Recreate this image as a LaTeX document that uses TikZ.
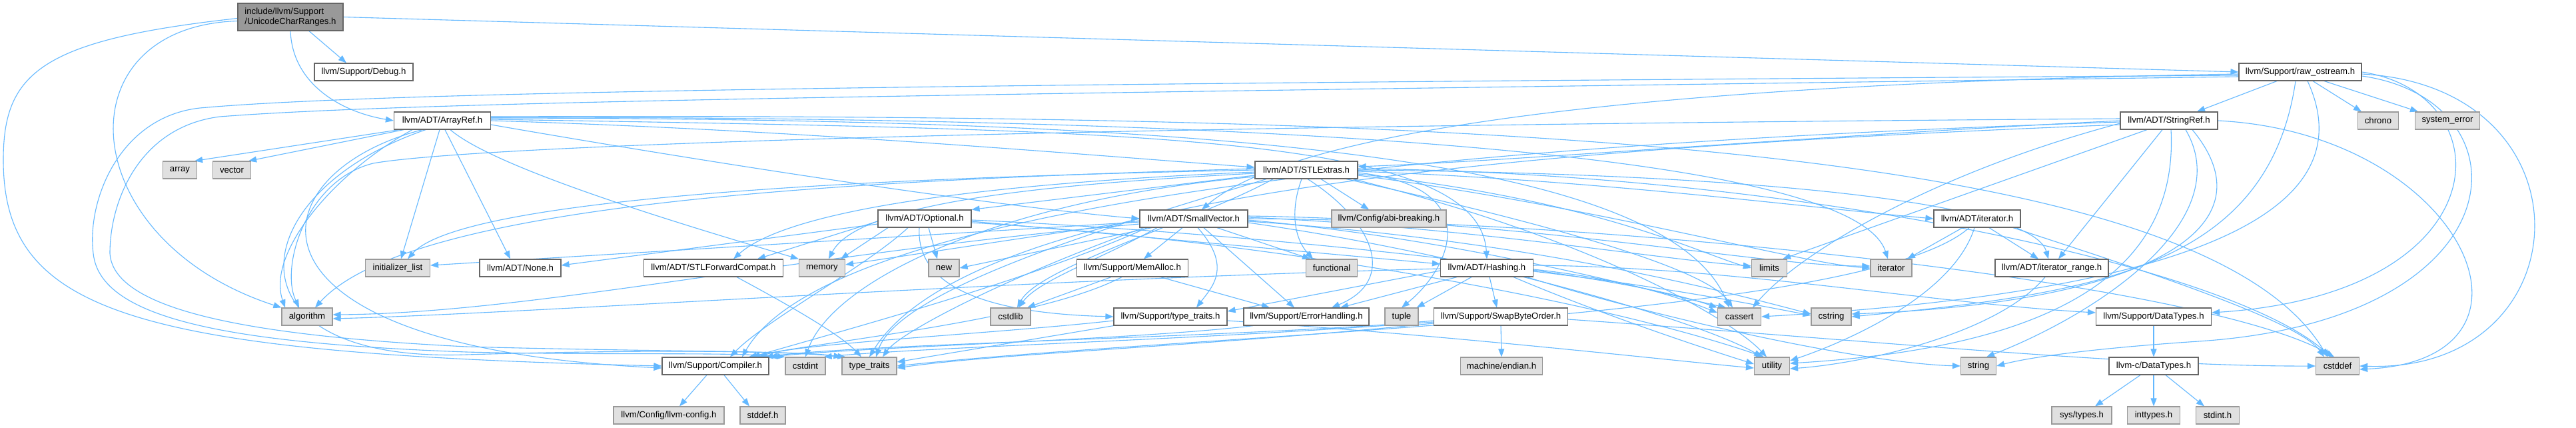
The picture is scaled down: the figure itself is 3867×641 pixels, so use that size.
\documentclass[tikz,border=0pt]{standalone}
\usepackage{fontspec}
\setmainfont{Liberation Sans}
\usetikzlibrary{arrows.meta}
\definecolor{edgeblue}{HTML}{63B8FF}
\definecolor{nodeborder}{HTML}{666666}
\definecolor{extborder}{HTML}{999999}
\definecolor{extfill}{HTML}{E0E0E0}
\definecolor{mainfill}{HTML}{999999}
\pgfdeclarelayer{bglayer}
\pgfdeclarelayer{edgelayer}
\pgfsetlayers{bglayer,edgelayer,main}
\begin{document}
\begin{tikzpicture}[x=1pt,y=1pt,
  filebox/.style={draw=nodeborder, fill=white, line width=1.2pt, minimum height=26pt, inner sep=0pt,
    font=\fontsize{13.2pt}{15pt}\selectfont, text=black},
  extbox/.style={filebox, draw=extborder, fill=extfill},
  edgeline/.style={draw=edgeblue, line width=1.1pt, -{Triangle[length=12pt,width=9pt]}}]
\useasboundingbox (0,0) rectangle (3867,-641);
\begin{pgfonlayer}{bglayer}
\fill[white] (0,0) rectangle (3867,-641);
\end{pgfonlayer}
% nodes
\node[filebox,fill=mainfill,minimum width=158pt,minimum height=41pt,align=left] (main) at (436,-25.5) {include/llvm/Support\\/UnicodeCharRanges.h};
\node[filebox,minimum width=148pt] (debug) at (546,-108) {llvm/Support/Debug.h};
\node[filebox,minimum width=184pt] (raw) at (3453,-108) {llvm/Support/raw\_ostream.h};
\node[filebox,minimum width=145pt] (arrayref) at (664,-181) {llvm/ADT/ArrayRef.h};
\node[filebox,minimum width=146pt] (stringref) at (3256,-181) {llvm/ADT/StringRef.h};
\node[extbox,minimum width=61pt] (chrono) at (3570,-181) {chrono};
\node[extbox,minimum width=97pt] (syserr) at (3674,-181) {system\_error};
\node[extbox,minimum width=51pt] (array) at (270,-255) {array};
\node[extbox,minimum width=57pt] (vector) at (348,-255) {vector};
\node[filebox,minimum width=154pt] (stlextras) at (1961,-255) {llvm/ADT/STLExtras.h};
\node[filebox,minimum width=140pt] (optional) at (1388,-328) {llvm/ADT/Optional.h};
\node[filebox,minimum width=162pt] (smallvector) at (1792,-328) {llvm/ADT/SmallVector.h};
\node[extbox,minimum width=172pt] (abibreak) at (2085,-328) {llvm/Config/abi-breaking.h};
\node[filebox,minimum width=130pt] (iteratorh) at (2968,-328) {llvm/ADT/iterator.h};
\node[extbox,minimum width=97pt] (initlist) at (597,-402) {initializer\_list};
\node[filebox,minimum width=122pt] (none) at (781,-402) {llvm/ADT/None.h};
\node[filebox,minimum width=209pt] (stlfc) at (1071,-402) {llvm/ADT/STLForwardCompat.h};
\node[extbox,minimum width=69pt] (memory) at (1234,-402) {memory};
\node[extbox,minimum width=46pt] (new) at (1417,-402) {new};
\node[filebox,minimum width=167pt] (memalloc) at (1700,-402) {llvm/Support/MemAlloc.h};
\node[extbox,minimum width=77pt] (functional) at (1999,-402) {functional};
\node[filebox,minimum width=139pt] (hashing) at (2232,-402) {llvm/ADT/Hashing.h};
\node[extbox,minimum width=53pt] (limits) at (2656,-402) {limits};
\node[extbox,minimum width=62pt] (iterator) at (2839,-402) {iterator};
\node[filebox,minimum width=170pt] (itrange) at (3080,-402) {llvm/ADT/iterator\_range.h};
\node[extbox,minimum width=76pt] (algorithm) at (461,-475) {algorithm};
\node[extbox,minimum width=60pt] (cstdlib) at (1517,-475) {cstdlib};
\node[filebox,minimum width=170pt] (typetraitsh) at (1757,-475) {llvm/Support/type\_traits.h};
\node[filebox,minimum width=188pt] (errorh) at (1961,-475) {llvm/Support/ErrorHandling.h};
\node[extbox,minimum width=50pt] (tuple) at (2104,-475) {tuple};
\node[filebox,minimum width=201pt] (swap) at (2253,-475) {llvm/Support/SwapByteOrder.h};
\node[extbox,minimum width=65pt] (cassert) at (2611,-475) {cassert};
\node[extbox,minimum width=60pt] (cstring) at (2749,-475) {cstring};
\node[filebox,minimum width=173pt] (datatypes) at (3233,-475) {llvm/Support/DataTypes.h};
\node[filebox,minimum width=160pt] (compiler) at (1074,-549) {llvm/Support/Compiler.h};
\node[extbox,minimum width=60pt] (cstdint) at (1209,-549) {cstdint};
\node[extbox,minimum width=82pt] (typetraits) at (1305,-549) {type\_traits};
\node[extbox,minimum width=123pt] (endian) at (2254,-549) {machine/endian.h};
\node[extbox,minimum width=53pt] (utility) at (2660,-549) {utility};
\node[extbox,minimum width=53pt] (string) at (2970,-549) {string};
\node[filebox,minimum width=134pt] (cdatatypes) at (3233,-549) {llvm-c/DataTypes.h};
\node[extbox,minimum width=65pt] (cstddef) at (3509,-549) {cstddef};
\node[extbox,minimum width=166pt] (llvmconfig) at (1004,-623) {llvm/Config/llvm-config.h};
\node[extbox,minimum width=68pt] (stddefh) at (1145,-623) {stddef.h};
\node[extbox,minimum width=90pt] (systypes) at (3125,-623) {sys/types.h};
\node[extbox,minimum width=79pt] (inttypes) at (3233,-623) {inttypes.h};
\node[extbox,minimum width=65pt] (stdinth) at (3329,-623) {stdint.h};

\begin{pgfonlayer}{edgelayer}
% main
\draw[edgeline] ([xshift=28pt]main.south) -- ([xshift=-26pt]debug.north);
\draw[edgeline] (main.east) -- (raw.west);
\draw[edgeline] (main.south) .. controls (439,-126) and (512,-168) .. (arrayref.west);
\draw[edgeline] ([yshift=-6pt]main.west) .. controls (90,-40) and (110,-360) .. (algorithm.north west);
\draw[edgeline] ([yshift=-2pt]main.west) .. controls (60,-60) and (5,-110) .. (5,-240) .. controls (5,-470) and (200,-530) .. (compiler.west);
% raw_ostream
\draw[edgeline] ([xshift=-35pt]raw.south) -- ([xshift=42pt]stringref.north);
\draw[edgeline] ([xshift=19pt]raw.south) -- ([xshift=-25pt]chrono.north);
\draw[edgeline] ([xshift=36pt]raw.south) -- ([xshift=-44pt]syserr.north);
\draw[edgeline] ([yshift=-3pt]raw.west) .. controls (2500,-125) and (1950,-190) .. ([xshift=12pt]smallvector.north);
\draw[edgeline] ([yshift=-5pt]raw.west) .. controls (1600,-125) and (600,-135) .. (300,-162) .. controls (180,-175) and (130,-300) .. (140,-380) .. controls (150,-480) and (350,-515) .. (700,-528) .. controls (900,-533) and (1100,-528) .. (cstdint.north west);
\draw[edgeline] ([yshift=-7pt]raw.west) .. controls (1600,-140) and (650,-150) .. (330,-175) .. controls (210,-190) and (165,-300) .. (165,-380) .. controls (170,-470) and (400,-505) .. (700,-520) .. controls (1000,-528) and (1200,-526) .. (typetraits.north west);
\draw[edgeline] (raw.east) .. controls (3760,-140) and (3760,-440) .. ([yshift=6pt]datatypes.east);
\draw[edgeline] ([yshift=-3pt]raw.east) .. controls (3900,-130) and (3880,-560) .. (cstddef.east);
\draw[edgeline] ([yshift=-6pt]raw.east) .. controls (3800,-150) and (3790,-480) .. (3300,-512) .. controls (3150,-522) and (3050,-535) .. (string.east);
\draw[edgeline] ([xshift=-7pt]raw.south) .. controls (3405,-400) and (3150,-440) .. (cstring.east);
\draw[edgeline] ([xshift=11pt]raw.south) .. controls (3560,-330) and (3250,-440) .. (cassert.east);
% StringRef
\draw[edgeline] (stringref.west) .. controls (2700,-205) and (2300,-240) .. ([yshift=5pt]stlextras.east);
\draw[edgeline] ([xshift=-10pt]stringref.south) -- ([xshift=10pt]itrange.north);
\draw[edgeline] ([xshift=-33pt]stringref.south) -- ([xshift=20pt]limits.north);
\draw[edgeline] ([xshift=3pt]stringref.south) .. controls (3270,-400) and (3100,-520) .. ([yshift=4pt]utility.east);
\draw[edgeline] ([xshift=25pt]stringref.south) .. controls (3360,-330) and (3150,-470) .. ([xshift=12pt]string.north);
\draw[edgeline] ([xshift=35pt]stringref.south) .. controls (3420,-350) and (3200,-455) .. ([yshift=4pt]cstring.east);
\draw[edgeline] ([yshift=-4pt]stringref.west) .. controls (2900,-260) and (2700,-380) .. ([xshift=20pt]cassert.north);
\draw[edgeline] (stringref.east) .. controls (3700,-200) and (3850,-540) .. ([yshift=-5pt]cstddef.east);
\draw[edgeline] ([yshift=3pt]stringref.west) .. controls (1500,-190) and (700,-220) .. (560,-245) .. controls (460,-270) and (420,-400) .. ([xshift=-12pt]algorithm.north);
\draw[edgeline] ([yshift=-2pt]stringref.west) .. controls (2200,-215) and (1250,-300) .. ([xshift=40pt]compiler.north);
\draw[edgeline] ([yshift=-6pt]stringref.west) .. controls (2200,-225) and (1450,-300) .. (typetraits.north);
% ArrayRef
\draw[edgeline] ([xshift=-65pt]arrayref.south) -- ([xshift=-4pt]array.north east);
\draw[edgeline] ([xshift=-58pt]arrayref.south) -- ([xshift=-4pt]vector.north east);
\draw[edgeline] ([xshift=-4pt]arrayref.south) -- ([xshift=5pt]initlist.north);
\draw[edgeline] ([xshift=4pt]arrayref.south) -- ([xshift=-15pt]none.north);
\draw[edgeline] ([xshift=12pt]arrayref.south) .. controls (740,-250) and (1000,-330) .. (memory.north west);
\draw[edgeline] ([xshift=-45pt]arrayref.south) .. controls (500,-260) and (400,-380) .. ([xshift=-33pt]algorithm.north);
\draw[edgeline] ([xshift=-30pt]arrayref.south) .. controls (380,-260) and (330,-520) .. ([yshift=-3pt]compiler.west);
\draw[edgeline] ([xshift=-25pt]arrayref.south) .. controls (360,-290) and (330,-545) .. (700,-532) .. controls (900,-526) and (1150,-524) .. ([xshift=6pt]typetraits.north west);
\draw[edgeline] (arrayref.east) .. controls (1200,-195) and (1600,-230) .. ([yshift=4pt]stlextras.west);
\draw[edgeline] ([yshift=-6pt]arrayref.east) .. controls (1100,-250) and (1500,-310) .. (smallvector.west);
\draw[edgeline] ([yshift=2pt]arrayref.east) .. controls (1700,-195) and (2220,-200) .. (hashing.north);
\draw[edgeline] ([yshift=4pt]arrayref.east) .. controls (1800,-178) and (2500,-230) .. ([xshift=-15pt]cassert.north);
\draw[edgeline] ([yshift=6pt]arrayref.east) .. controls (2200,-170) and (3300,-210) .. ([xshift=-15pt]cstddef.north);
\draw[edgeline] ([yshift=5pt]arrayref.east) .. controls (1800,-175) and (2780,-220) .. ([xshift=-5pt]iterator.north);
% STLExtras
\draw[edgeline] ([yshift=-8pt]stlextras.west) -- (optional.north east);
\draw[edgeline] ([yshift=-3pt]stlextras.west) .. controls (1600,-270) and (1200,-300) .. ([xshift=30pt]stlfc.north);
\draw[edgeline] ([yshift=-5pt]stlextras.west) .. controls (1600,-275) and (1290,-300) .. ([xshift=10pt]memory.north);
\draw[edgeline] (stlextras.west) .. controls (1400,-265) and (700,-290) .. ([xshift=15pt]initlist.north);
\draw[edgeline] ([yshift=2pt]stlextras.west) .. controls (1300,-270) and (620,-300) .. ([xshift=12pt]algorithm.north);
\draw[edgeline] ([yshift=-10pt]stlextras.west) .. controls (1500,-300) and (1250,-420) .. (cstdint.north);
\draw[edgeline] ([xshift=-60pt]stlextras.south) .. controls (1700,-330) and (1350,-430) .. ([xshift=10pt]typetraits.north);
\draw[edgeline] ([xshift=-50pt]stlextras.south) .. controls (1800,-330) and (1560,-400) .. ([xshift=10pt]cstdlib.north);
\draw[edgeline] ([xshift=22pt]stlextras.south) -- ([xshift=-30pt]abibreak.north);
\draw[edgeline] ([xshift=-7pt]stlextras.south) .. controls (1935,-320) and (1945,-360) .. ([xshift=-28pt]functional.north);
\draw[edgeline] ([xshift=2pt]stlextras.south) .. controls (2060,-330) and (2100,-420) .. ([xshift=38pt]errorh.north);
\draw[edgeline] ([yshift=-4pt]stlextras.east) .. controls (2230,-280) and (2180,-400) .. (tuple.north);
\draw[edgeline] ([yshift=-2pt]stlextras.east) .. controls (2400,-270) and (2700,-310) .. (iteratorh.west);
\draw[edgeline] (stlextras.east) .. controls (2600,-260) and (3050,-300) .. ([xshift=-5pt]itrange.north);
\draw[edgeline] ([yshift=-6pt]stlextras.east) .. controls (2400,-300) and (2550,-380) .. (limits.west);
\draw[edgeline] ([yshift=-8pt]stlextras.east) .. controls (2400,-310) and (2700,-395) .. (iterator.west);
\draw[edgeline] ([xshift=60pt]stlextras.south) .. controls (2300,-330) and (2560,-400) .. ([xshift=-10pt]cassert.north);
\draw[edgeline] ([xshift=70pt]stlextras.south) .. controls (2400,-360) and (2600,-480) .. ([xshift=-8pt]utility.north);
\draw[edgeline] ([yshift=2pt]stlextras.east) .. controls (2700,-260) and (3350,-400) .. ([xshift=-10pt]cstddef.north);
% Optional
\draw[edgeline] ([xshift=6pt]optional.south) -- ([xshift=-10pt]new.north);
\draw[edgeline] ([xshift=-8pt]optional.south) .. controls (1375,-430) and (1480,-470) .. (typetraitsh.west);
\draw[edgeline] ([xshift=-55pt]optional.south) -- ([xshift=28pt]memory.north);
\draw[edgeline] ([yshift=-4pt]optional.west) -- ([xshift=66pt]stlfc.north);
\draw[edgeline] ([yshift=-8pt]optional.west) -- ([yshift=4pt]none.east);
\draw[edgeline] ([xshift=-25pt]optional.south) .. controls (1300,-400) and (1150,-480) .. ([xshift=22pt]compiler.north);
\draw[edgeline] ([yshift=-4pt]optional.east) -- ([yshift=6pt]hashing.west);
\draw[edgeline] ([yshift=-2pt]optional.east) .. controls (1800,-345) and (2400,-400) .. (cassert.north west);
\draw[edgeline] ([yshift=-6pt]optional.east) .. controls (1900,-360) and (2400,-450) .. ([xshift=-12pt]utility.north);
% SmallVector
\draw[edgeline] ([xshift=-17pt]smallvector.south) -- ([xshift=17pt]memalloc.north);
\draw[edgeline] ([xshift=6pt]smallvector.south) .. controls (1850,-400) and (1820,-430) .. ([xshift=39pt]typetraitsh.north);
\draw[edgeline] ([xshift=15pt]smallvector.south) -- ([xshift=-18pt]errorh.north);
\draw[edgeline] ([xshift=35pt]smallvector.south) -- ([xshift=-32pt]functional.north);
\draw[edgeline] ([xshift=-55pt]smallvector.south) .. controls (1650,-390) and (1560,-420) .. ([xshift=12pt]cstdlib.north);
\draw[edgeline] ([xshift=-63pt]smallvector.south) -- (new.east);
\draw[edgeline] ([yshift=-3pt]smallvector.west) -- ([yshift=5pt]memory.east);
\draw[edgeline] ([yshift=-5pt]smallvector.west) -- ([yshift=4pt]initlist.east);
\draw[edgeline] ([yshift=-8pt]smallvector.west) .. controls (1200,-380) and (800,-470) .. ([yshift=3pt]algorithm.east);
\draw[edgeline] ([xshift=-70pt]smallvector.south) .. controls (1550,-420) and (1250,-500) .. ([xshift=55pt]compiler.north);
\draw[edgeline] ([xshift=-75pt]smallvector.south) .. controls (1500,-420) and (1350,-500) .. ([xshift=20pt]typetraits.north);
\draw[edgeline] ([yshift=-2pt]smallvector.east) .. controls (2200,-360) and (2450,-430) .. ([xshift=-20pt]cassert.north);
\draw[edgeline] (smallvector.east) .. controls (2400,-330) and (3300,-420) .. ([xshift=-5pt]cstddef.north);
\draw[edgeline] ([yshift=-4pt]smallvector.east) .. controls (2300,-360) and (2600,-440) .. ([yshift=4pt]cstring.west);
\draw[edgeline] ([yshift=4pt]smallvector.east) .. controls (2300,-330) and (2650,-400) .. ([yshift=3pt]iterator.west);
\draw[edgeline] ([yshift=2pt]smallvector.east) .. controls (2200,-340) and (2500,-390) .. ([yshift=3pt]limits.west);
\draw[edgeline] ([yshift=-6pt]smallvector.east) .. controls (2200,-380) and (2550,-480) .. ([xshift=-15pt]utility.north);
% iterator.h
\draw[edgeline] ([xshift=-22pt]iteratorh.south) -- ([xshift=24pt]iterator.north);
\draw[edgeline] ([xshift=18pt]iteratorh.south) -- ([xshift=-20pt]itrange.north);
\draw[edgeline] ([xshift=54pt]iteratorh.south) .. controls (3200,-400) and (3450,-480) .. ([xshift=-20pt]cstddef.north);
\draw[edgeline] ([xshift=-4pt]iteratorh.south) .. controls (2930,-450) and (2750,-520) .. ([yshift=8pt]utility.east);
\draw[edgeline] ([xshift=-12pt]iteratorh.south) .. controls (2800,-480) and (1800,-500) .. (typetraits.east);
% STLForwardCompat
\draw[edgeline] ([xshift=35pt]stlfc.south) .. controls (1170,-450) and (1260,-500) .. ([xshift=-12pt]typetraits.north);
% MemAlloc
\draw[edgeline] ([xshift=-32pt]memalloc.south) -- ([xshift=25pt]cstdlib.north);
\draw[edgeline] ([xshift=42pt]memalloc.south) -- ([xshift=-55pt]errorh.north);
\draw[edgeline] ([xshift=-16pt]memalloc.south) .. controls (1560,-480) and (1250,-510) .. ([xshift=50pt]compiler.north);
% Hashing
\draw[edgeline] ([xshift=4pt]hashing.south) -- ([xshift=-6pt]swap.north);
\draw[edgeline] ([xshift=-23pt]hashing.south) -- ([xshift=-3pt]tuple.north east);
\draw[edgeline] ([xshift=-45pt]hashing.south) -- ([xshift=51pt]errorh.north);
\draw[edgeline] ([yshift=-4pt]hashing.west) -- ([yshift=8pt]typetraitsh.east);
\draw[edgeline] ([yshift=-1pt]hashing.west) .. controls (1500,-420) and (800,-470) .. ([yshift=-3pt]algorithm.east);
\draw[edgeline] ([yshift=-2pt]hashing.east) .. controls (2450,-420) and (2530,-450) .. ([yshift=6pt]cassert.west);
\draw[edgeline] ([yshift=-5pt]hashing.east) .. controls (2500,-430) and (2650,-460) .. ([yshift=2pt]cstring.west);
\draw[edgeline] ([xshift=40pt]hashing.south) .. controls (2400,-470) and (2550,-520) .. ([yshift=3pt]utility.west);
\draw[edgeline] ([xshift=60pt]hashing.south) .. controls (2500,-480) and (2800,-545) .. (string.west);
\draw[edgeline] ([yshift=4pt]hashing.east) .. controls (2600,-400) and (2900,-455) .. ([yshift=6pt]datatypes.west);
% iterator_range
\draw[edgeline] ([xshift=-10pt]itrange.south) .. controls (3000,-500) and (2800,-545) .. ([yshift=-4pt]utility.east);
% type_traits.h
\draw[edgeline] (typetraitsh.south west) -- ([yshift=6pt]typetraits.east);
\draw[edgeline] ([yshift=-6pt]typetraitsh.west) .. controls (1500,-500) and (1200,-515) .. ([xshift=65pt]compiler.north);
\draw[edgeline] ([yshift=-6pt]typetraitsh.east) .. controls (2200,-505) and (2500,-540) .. ([yshift=-3pt]utility.west);
% ErrorHandling
\draw[edgeline] ([xshift=-80pt]errorh.south) .. controls (1700,-510) and (1300,-520) .. (compiler.north east);
% SwapByteOrder
\draw[edgeline] (swap.south) -- (endian.north);
\draw[edgeline] ([yshift=-4pt]swap.east) .. controls (2800,-510) and (3200,-550) .. (cstddef.west);
\draw[edgeline] ([yshift=-6pt]swap.west) .. controls (1900,-505) and (1300,-515) .. ([xshift=-6pt]compiler.north east);
\draw[edgeline] ([yshift=-8pt]swap.west) .. controls (1800,-510) and (1400,-520) .. ([xshift=-3pt]cstdint.north east);
\draw[edgeline] ([yshift=-10pt]swap.west) .. controls (1800,-520) and (1500,-530) .. ([yshift=-3pt]typetraits.east);
% DataTypes
\draw[edgeline] (datatypes.south) -- (cdatatypes.north);
\draw[edgeline] ([xshift=-20pt]cdatatypes.south) -- ([xshift=20pt]systypes.north);
\draw[edgeline] (cdatatypes.south) -- (inttypes.north);
\draw[edgeline] ([xshift=18pt]cdatatypes.south) -- ([xshift=-20pt]stdinth.north);
% Compiler
\draw[edgeline] ([xshift=-13pt]compiler.south) -- ([xshift=16pt]llvmconfig.north);
\draw[edgeline] ([xshift=13pt]compiler.south) -- ([xshift=-20pt]stddefh.north);
\end{pgfonlayer}
\end{tikzpicture}
\end{document}
